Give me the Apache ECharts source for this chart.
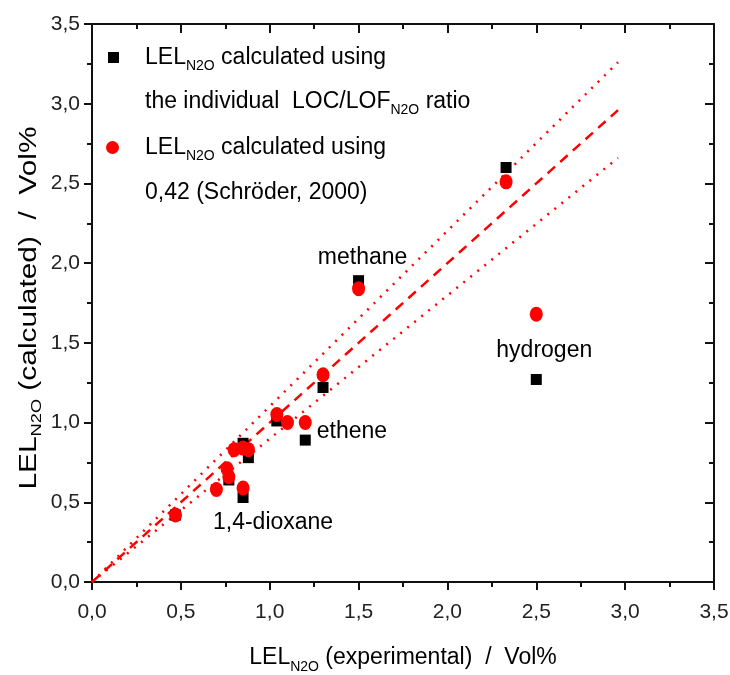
<!DOCTYPE html>
<html>
<head>
<meta charset="utf-8">
<script src="https://cdn.jsdelivr.net/npm/echarts@6/dist/echarts.min.js"></script>
<style>
  html, body { margin: 0; padding: 0; background: #fff; }
  #chart { width: 730px; height: 675px; }
</style>
</head>
<body>
<div id="chart"></div>
<script>
// LEL(N2O): experimental vs calculated, Vol%
const individualX = [0.47, 0.77, 0.85, 0.85, 0.88, 1.04, 1.2, 1.3, 1.5, 2.33, 2.5];
const individualY = [0.42, 0.64, 0.53, 0.87, 0.78, 1.01, 0.89, 1.22, 1.89, 2.6, 1.27];
const individualNames = ['', '', '1,4-dioxane', '', '', '', 'ethene', '', 'methane', '', 'hydrogen'];

const schroederX = [0.47, 0.7, 0.76, 0.77, 0.8, 0.85, 0.85, 0.88, 1.04, 1.1, 1.2, 1.3, 1.5, 2.33, 2.5];
const schroederY = [0.42, 0.58, 0.71, 0.66, 0.83, 0.59, 0.84, 0.83, 1.05, 1.0, 1.0, 1.3, 1.84, 2.51, 1.68];

// reference lines: 1:1 and +/-10 %
const lineX = [0, 2.96];
const lineY = [0, 2.96];
const upperY = [0, 3.26];
const lowerY = [0, 2.66];

const FONT = '"Liberation Sans", Arial, sans-serif';
const comma = v => v.toFixed(1).replace('.', ',');

const chart = echarts.init(document.getElementById('chart'));

const pairs = (xs, ys) => xs.map((x, i) => [x, ys[i]]);

const labelPos = {
  'methane': { position: 'top', distance: 6, offset: [4, 0] },
  'hydrogen': { position: 'top', distance: 12, offset: [8, 0] },
  'ethene': { position: 'right', distance: 6, offset: [0, -8] },
  '1,4-dioxane': { position: 'bottom', distance: 8, offset: [30, 0] }
};

const individualData = individualX.map((x, i) => {
  const name = individualNames[i];
  const item = { value: [x, individualY[i]] };
  if (name) {
    item.label = Object.assign({
      show: true,
      formatter: name,
      color: '#000',
      fontFamily: FONT,
      fontSize: 23
    }, labelPos[name]);
  }
  return item;
});

const rich = {
  g: { width: 21 },
  a: { fontSize: 23, fontFamily: FONT, color: '#000', lineHeight: 32 },
  s: { fontSize: 14, fontFamily: FONT, color: '#000', lineHeight: 13, verticalAlign: 'bottom' }
};

const baseAxis = {
  type: 'value',
  min: 0,
  max: 3.5,
  interval: 0.5,
  axisLine: { show: true, onZero: false, lineStyle: { color: '#111', width: 2 } },
  splitLine: { show: false },
  minorTick: { show: true, splitNumber: 2, length: 5, lineStyle: { color: '#111', width: 2 } }
};

const tickLabel = { fontSize: 21, fontFamily: FONT, color: '#222', formatter: comma };

const options = {
  animation: false,
  backgroundColor: '#fff',
  grid: { left: 92, right: 16, top: 24, bottom: 93, outerBoundsMode: 'none' },
  legend: [
    {
      data: ['individual'],
      left: 103,
      top: 41,
      itemWidth: 11,
      itemHeight: 11,
      itemGap: 0,
      formatter: () => '{g|}{a|LEL}{s|N2O}{a| calculated using}',
      textStyle: { rich: rich }
    },
    {
      data: ['schroeder'],
      left: 101,
      top: 131,
      itemWidth: 13,
      itemHeight: 15,
      itemGap: 0,
      formatter: () => '{g|}{a|LEL}{s|N2O}{a| calculated using}',
      textStyle: { rich: rich }
    }
  ],
  graphic: [
    {
      type: 'text',
      left: 145,
      top: 90,
      style: {
        text: '{a|the individual  LOC/LOF}{s|N2O}{a| ratio}',
        rich: rich
      }
    },
    {
      type: 'text',
      left: 145,
      top: 181,
      style: {
        text: '{a|0,42 (Schröder, 2000)}',
        rich: rich
      }
    },
    {
      // y axis title, stretched along its length like the source figure
      type: 'text',
      x: 30,
      y: 308,
      rotation: Math.PI / 2,
      scaleX: 1.3,
      style: {
        text: '{a|LEL}{s|N2O}{a| (calculated)  /  Vol%}',
        align: 'center',
        verticalAlign: 'middle',
        rich: {
          a: { fontSize: 23, fontFamily: FONT, color: '#000', lineHeight: 28 },
          s: { fontSize: 14, fontFamily: FONT, color: '#000', lineHeight: 12, verticalAlign: 'bottom' }
        }
      }
    }
  ],
  xAxis: [
    Object.assign({}, baseAxis, {
      position: 'bottom',
      axisTick: { show: true, inside: false, length: 8, lineStyle: { color: '#111', width: 2 } },
      axisLabel: Object.assign({ margin: 20 }, tickLabel),
      name: '{a|LEL}{s|N2O}{a| (experimental)  /  Vol%}',
      nameLocation: 'middle',
      nameGap: 60,
      nameTextStyle: { rich: rich }
    }),
    Object.assign({}, baseAxis, {
      position: 'top',
      axisTick: { show: true, inside: true, length: 9, lineStyle: { color: '#111', width: 2 } },
      axisLabel: { show: false }
    })
  ],
  yAxis: [
    Object.assign({}, baseAxis, {
      position: 'left',
      axisTick: { show: true, inside: false, length: 8, lineStyle: { color: '#111', width: 2 } },
      axisLabel: Object.assign({ margin: 12 }, tickLabel)
    }),
    Object.assign({}, baseAxis, {
      position: 'right',
      axisTick: { show: true, inside: true, length: 9, lineStyle: { color: '#111', width: 2 } },
      axisLabel: { show: false }
    })
  ],
  series: [
    {
      name: 'upper',
      type: 'line',
      showSymbol: false,
      silent: true,
      data: pairs(lineX, upperY),
      lineStyle: { color: '#f00', width: 2.5, type: [2, 7] }
    },
    {
      name: 'lower',
      type: 'line',
      showSymbol: false,
      silent: true,
      data: pairs(lineX, lowerY),
      lineStyle: { color: '#f00', width: 2.5, type: [2, 7] }
    },
    {
      name: 'oneToOne',
      type: 'line',
      showSymbol: false,
      silent: true,
      data: pairs(lineX, lineY),
      lineStyle: { color: '#f00', width: 2.5, type: [10, 7] }
    },
    {
      name: 'individual',
      type: 'scatter',
      symbol: 'rect',
      symbolSize: [11, 11],
      itemStyle: { color: '#000', opacity: 1 },
      data: individualData,
      z: 3
    },
    {
      name: 'schroeder',
      type: 'scatter',
      symbol: 'circle',
      symbolSize: [13, 15],
      itemStyle: { color: '#ff0000', opacity: 1 },
      data: pairs(schroederX, schroederY),
      z: 4
    }
  ]
};

chart.setOption(options);
</script>
</body>
</html>
